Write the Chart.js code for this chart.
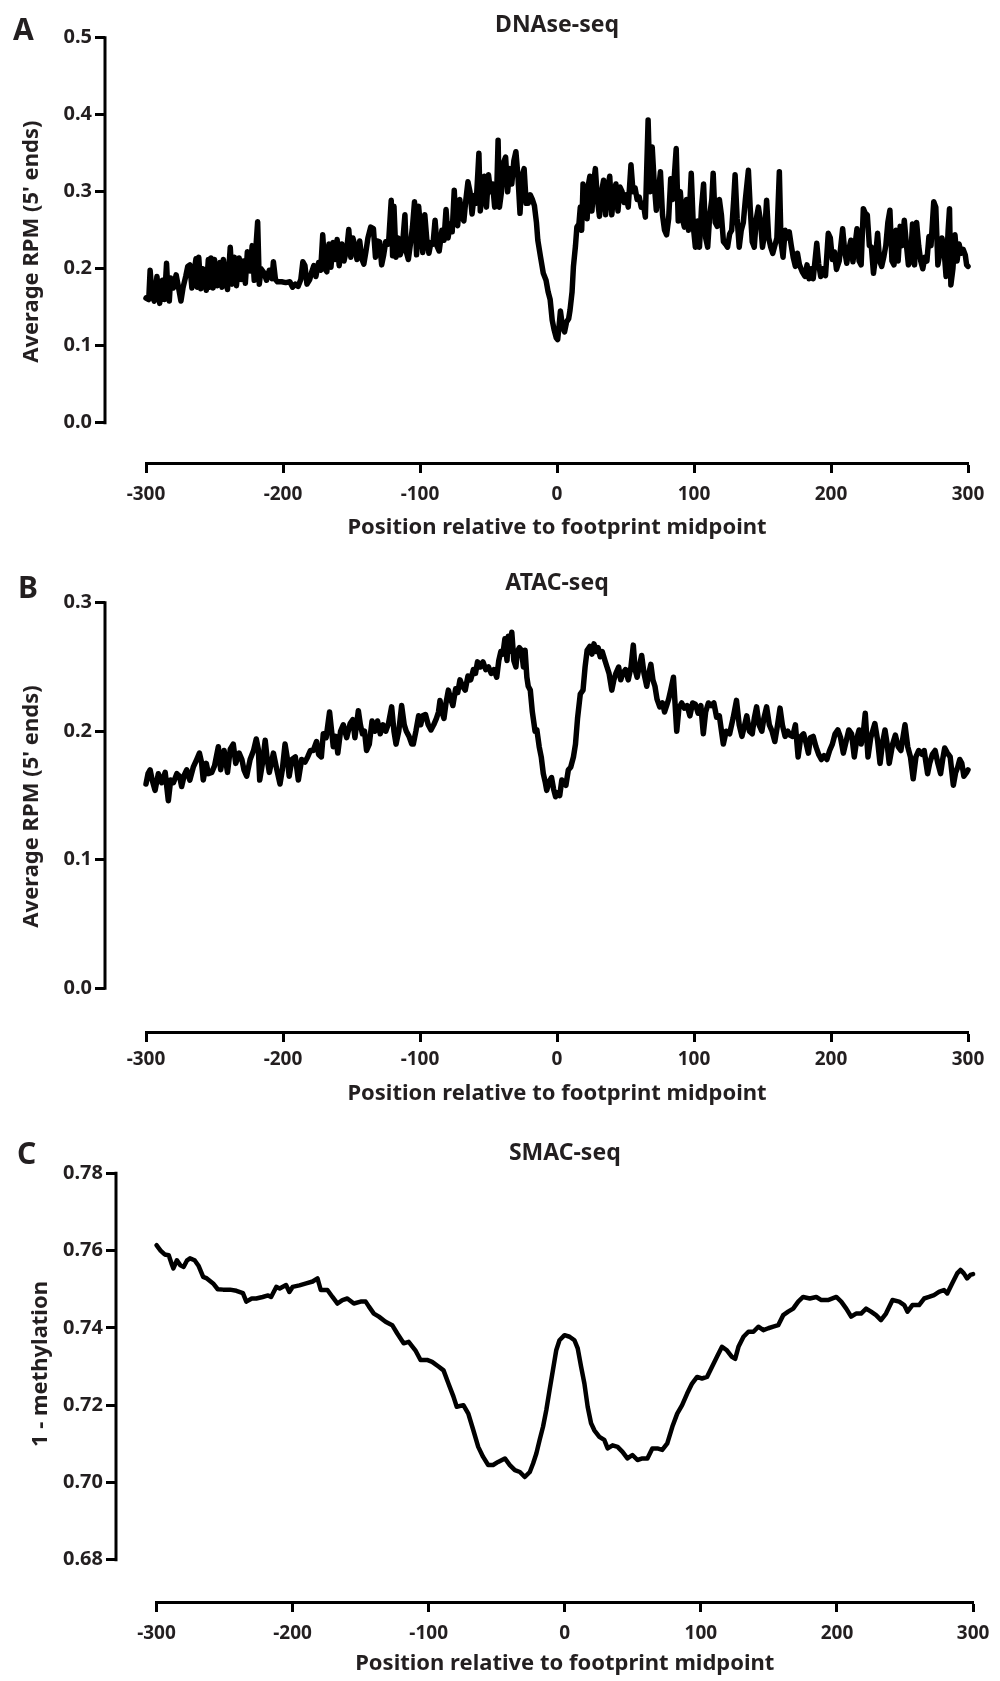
<!DOCTYPE html>
<html><head><meta charset="utf-8">
<script src="https://cdn.jsdelivr.net/npm/chart.js@4.4.1/dist/chart.umd.min.js"></script>
<style>
html,body{margin:0;padding:0;background:#fff;}
#wrap{position:relative;width:1000px;height:1681px;background:#fff;}
canvas{position:absolute;left:0;}
</style></head><body>
<div id="wrap">
<canvas id="cA" width="1000" height="550" style="top:0px"></canvas>
<canvas id="cB" width="1000" height="560" style="top:550px"></canvas>
<canvas id="cC" width="1000" height="571" style="top:1110px"></canvas>
</div>
<script>
// ---------- shared axis ticks ----------
const xTicks = [-300, -200, -100, 0, 100, 200, 300];
const dnaseTicks = [0, 0.1, 0.2, 0.3, 0.4, 0.5];
const atacTicks = [0, 0.1, 0.2, 0.3];
const smacTicks = [0.68, 0.70, 0.72, 0.74, 0.76, 0.78];

// ---------- A: DNAse-seq ----------
const dnasePos = [
-300,-298,-297,-295.5,-294,-292,-290,-289,-288,-286.5,
-285,-284,-283,-282,-280,-278,-276.5,-274.5,-273,-271,
-269.5,-268,-266.5,-265,-263.5,-262.5,-261.5,-260,-258.5,-256,
-254.5,-253.5,-252.5,-251,-250,-248,-246,-244.5,-243.5,-242,
-240.5,-238.5,-237,-235.5,-234,-232,-230.5,-229,-227.5,-226,
-224,-222.5,-221,-219.5,-218.5,-217.3,-216,-214,-212,-210,
-208,-207,-205.5,-204,-201,-198,-195,-193,-191,-189,
-187,-185.5,-184,-182.5,-180.5,-179,-177.5,-176,-174,-172.5,
-171,-169.5,-168,-166.5,-165,-163.5,-162,-160.5,-159,-157,
-155.5,-153.5,-152,-150.5,-149,-147.5,-146,-144,-142.5,-141,
-139.5,-138,-136,-134,-132.5,-131,-129.5,-128,-126.5,-125,
-123,-121,-120,-119,-117.5,-116,-114.5,-113,-111,-110,
-108.5,-107,-105.5,-104,-102.5,-101,-99.5,-98,-96.5,-95,
-93.5,-92,-90.5,-89,-87.5,-86,-84,-82.5,-81,-79.5,
-78,-76.5,-75,-74,-72.5,-71,-69.5,-68,-66.5,-65,
-63.5,-62,-60.5,-59,-57,-56,-54.5,-53,-51.5,-50,
-48.5,-47,-45.5,-44,-43,-42,-40.5,-39,-37.5,-36,
-34.5,-33,-31.5,-30,-28.5,-27,-25.5,-24,-22.5,-21,
-19.5,-18,-16.5,-15,-14,-12,-10,-8,-6.5,-5,
-3.5,-2,-0.5,0.5,1.5,2.5,4,5.5,7,8.5,
9.5,11,12,13.5,14.5,16,17,18,19,20,
21,22,23,24,25.5,27,28,29.5,31,32.5,
34,35.5,37,38.5,40,41.5,43,44.5,46,47.5,
49,50.5,52,54,55.5,57,58.5,60,61.5,63,
64.5,66.5,68,69.5,71,72.5,74,75.5,77,78.5,
80,81.5,83,84.5,87,88.5,90,91.5,93,94.5,
96,98,99.5,101,102.5,104,105.5,107,108.5,110,
111.5,113,114,115.5,117,118.5,120,121.5,123,124.5,
126,127.5,129,130,131.5,133,134.5,136,137.5,139.7,
141,142.5,144,145.5,147,148.5,150,151.5,153,154.5,
156,157.5,159,160.5,162.3,163.5,165,166.5,168,169.5,
171,172.5,174,175.5,177,179,181,182.5,184,185.5,
187,189.6,191,192.5,194,196,198,199.5,201,202.5,
204,206,208.5,210,211.5,213,214.5,216,217.5,219,
220.5,222,223.6,225,226.5,228,229.5,231,232.5,234,
235.5,237,238.5,240,241.5,243,244.5,246,247.5,249,
250.5,252,253.5,255,256.5,258,259.5,261,262.5,264,
265.5,267,268.5,270,271.5,273,275,276.5,278,279.5,
281,282.5,284,285.5,286.5,287.5,289,290.5,292,293.5,
295,296.5,298,299,300];
const dnaseVal = [
.162,.160,.198,.165,.158,.190,.155,.178,.185,.160,
.207,.170,.158,.188,.175,.192,.178,.158,.175,.190,
.203,.205,.175,.195,.213,.176,.215,.174,.200,.172,
.212,.176,.214,.175,.212,.178,.208,.176,.212,.190,
.173,.228,.180,.215,.178,.214,.186,.210,.181,.222,
.197,.230,.185,.235,.261,.180,.200,.195,.185,.198,
.187,.209,.186,.183,.183,.182,.183,.176,.180,.177,
.186,.209,.204,.180,.186,.196,.204,.190,.208,.198,
.244,.200,.196,.232,.202,.234,.212,.238,.204,.232,
.210,.225,.251,.215,.240,.230,.212,.236,.213,.206,
.222,.240,.254,.252,.215,.236,.235,.205,.218,.235,
.232,.289,.217,.281,.215,.240,.218,.226,.270,.222,
.212,.232,.254,.287,.218,.281,.250,.221,.270,.237,
.220,.234,.232,.263,.229,.223,.250,.237,.277,.240,
.258,.248,.302,.264,.256,.290,.268,.262,.290,.313,
.300,.271,.295,.285,.350,.275,.300,.320,.280,.322,
.300,.310,.280,.300,.367,.280,.300,.338,.345,.300,
.330,.310,.340,.352,.320,.272,.320,.330,.285,.285,
.296,.290,.282,.260,.237,.215,.194,.185,.170,.160,
.133,.120,.110,.108,.125,.145,.125,.118,.131,.135,
.146,.170,.203,.230,.254,.258,.280,.250,.310,.268,
.300,.265,.310,.320,.275,.315,.330,.290,.268,.300,
.315,.270,.305,.320,.270,.300,.310,.275,.306,.300,
.286,.296,.280,.335,.300,.305,.290,.293,.280,.285,
.267,.393,.300,.358,.310,.276,.300,.326,.270,.250,
.244,.265,.317,.290,.356,.262,.300,.265,.254,.290,
.250,.324,.255,.228,.262,.228,.280,.310,.240,.228,
.270,.290,.324,.260,.255,.290,.270,.235,.232,.228,
.245,.250,.290,.322,.265,.228,.250,.260,.290,.328,
.280,.235,.228,.265,.280,.262,.228,.245,.289,.240,
.228,.220,.230,.240,.326,.235,.215,.250,.240,.248,
.230,.214,.203,.220,.205,.196,.190,.205,.187,.200,
.187,.233,.206,.190,.200,.191,.246,.240,.212,.222,
.199,.210,.252,.223,.207,.225,.237,.209,.230,.252,
.210,.205,.278,.272,.270,.230,.228,.194,.215,.246,
.210,.203,.215,.230,.260,.276,.210,.205,.250,.210,
.255,.230,.263,.232,.205,.210,.258,.205,.260,.230,
.210,.200,.215,.210,.242,.230,.287,.280,.205,.220,
.240,.225,.190,.250,.278,.179,.200,.244,.210,.232,
.220,.225,.218,.205,.203];

// ---------- B: ATAC-seq ----------
const atacPos = [
-300,-298.5,-297,-295.5,-293.4,-291,-288.5,-286,-283.7,-282,
-280,-277.5,-275.5,-274,-272,-270.3,-268,-265.5,-263,-261,
-259.5,-258.2,-256,-254.5,-252,-250,-247.2,-245.5,-243,-240.5,
-238.5,-236.3,-234.5,-232,-230,-228.5,-226.5,-224,-221.5,-219.5,
-218,-217,-215,-213,-211.5,-210,-207,-204.5,-202.2,-200.5,
-198.5,-197,-195.5,-193.5,-191,-188.8,-186.4,-184,-182,-180,
-177.9,-175.5,-174,-172,-170.6,-168.5,-166,-164.5,-163.3,-161.5,
-160,-158,-156,-153.5,-151,-149,-147.5,-145,-143.5,-142,
-140.5,-139,-137,-135,-133,-131,-129,-127,-125,-123,
-120.7,-119,-117.5,-115.5,-113.4,-111.5,-110,-108,-106,-104.9,
-103,-101,-99.5,-98,-96,-94,-92,-90,-88,-86.5,
-85.4,-84,-82.5,-81,-79.3,-77.5,-76,-74,-72.5,-70.8,
-69,-67,-65,-63,-61,-59.5,-58,-56,-54,-52,
-50,-48,-46,-44,-42.5,-41,-39.5,-38,-36.5,-35.5,
-34.5,-33,-31.5,-30,-29,-27.5,-26,-24.5,-23.3,-22,
-21,-19.5,-18,-16,-14.7,-13,-11.5,-10,-8.5,-7.5,
-6,-4,-2.5,-1,0.5,2,3.5,5,6.5,8.3,
10,12,13.5,15,17,19,20.5,22,24,25.5,
27,28.5,30,31.5,33,35,36.5,38,40,41.5,
43,45,46.5,48,50,52,54,55.7,57,58.5,
60,61.8,63.5,65.5,67,68.5,70,71.5,73,75,
77,78.5,80,81.5,83,85,87.4,89,91,93,
95,97,99,101,103,105,106.8,108.5,110.5,112.5,
114.5,116.5,118.5,121.4,123.5,126,128.5,131,133,135,
137,138.5,140.5,142.5,144,145.7,147.5,149.5,151,153,
155,157,159,161,162.8,164.5,166.5,168.5,170,172,
174,176,178,180,182,183.5,185,187,189,191,
193,195,197,199,201,203,205,207,209,211,
213,215,217,219,220.5,222,223.5,225,227,229,
232,234,235.8,237.5,239.4,241,242.5,245,247,249,
251,254,256,258,260,262,264,266.5,268,270.5,
272,274,276,278,280,281.5,283,285,287,289.3,
291,292.5,294,295.5,297,299,300];
const atacVal = [
.159,.167,.170,.162,.154,.167,.160,.168,.146,.162,
.160,.167,.165,.157,.166,.170,.162,.172,.178,.183,
.176,.162,.175,.167,.168,.173,.188,.170,.185,.168,
.186,.190,.175,.183,.178,.170,.165,.178,.185,.194,
.186,.162,.175,.193,.178,.168,.183,.170,.159,.170,
.190,.180,.165,.178,.180,.162,.178,.176,.180,.185,
.185,.192,.182,.180,.198,.195,.215,.200,.188,.196,
.183,.200,.205,.195,.206,.209,.195,.216,.205,.198,
.200,.185,.190,.208,.200,.208,.198,.205,.200,.206,
.219,.200,.190,.200,.220,.205,.200,.196,.190,.190,
.200,.212,.205,.212,.213,.205,.201,.205,.210,.215,
.224,.215,.210,.222,.232,.225,.220,.233,.230,.240,
.235,.232,.243,.240,.248,.245,.254,.250,.254,.248,
.250,.245,.248,.242,.255,.262,.260,.272,.255,.274,
.262,.277,.255,.250,.262,.265,.263,.250,.263,.242,
.235,.232,.215,.200,.201,.188,.180,.167,.160,.154,
.160,.164,.155,.149,.152,.150,.162,.160,.158,.170,
.172,.180,.190,.210,.229,.232,.250,.263,.266,.260,
.268,.262,.265,.258,.262,.255,.250,.245,.232,.240,
.245,.250,.240,.245,.248,.240,.250,.267,.248,.242,
.250,.259,.245,.235,.245,.252,.240,.235,.225,.219,
.222,.215,.220,.225,.232,.242,.200,.218,.222,.218,
.220,.212,.222,.221,.214,.220,.198,.215,.222,.220,
.222,.211,.212,.190,.200,.198,.210,.224,.205,.196,
.205,.212,.200,.198,.210,.219,.205,.200,.210,.219,
.205,.200,.192,.205,.218,.205,.196,.200,.197,.196,
.205,.180,.196,.198,.190,.183,.195,.196,.188,.182,
.178,.181,.178,.185,.190,.198,.201,.195,.183,.192,
.201,.198,.180,.195,.201,.190,.198,.214,.180,.195,
.206,.193,.175,.190,.201,.190,.175,.190,.197,.188,
.185,.205,.188,.180,.163,.180,.185,.182,.185,.167,
.175,.182,.185,.175,.167,.178,.187,.183,.180,.158,
.168,.172,.178,.175,.165,.168,.170];

// ---------- C: SMAC-seq ----------
const smacPos = [
-300,-297,-294,-291,-289,-287.6,-285,-282.5,-280,-277.5,
-275.4,-272,-269,-265.7,-263,-258.4,-255,-251,-246,-241.3,
-236.5,-234,-230,-226.7,-222,-218,-215.8,-212,-209.5,-204.8,
-202.4,-200,-195,-190,-185.3,-181.7,-179.3,-174.4,-170.7,-167,
-163.4,-159.8,-155,-150,-146.3,-143.9,-140.3,-136.6,-131.7,-126.8,
-123.2,-118.4,-114.7,-109.8,-106,-101.2,-97.5,-92.8,-89.1,-85.5,
-81.8,-79.4,-74.5,-70.9,-67.2,-63.6,-60,-56.3,-52.7,-49,
-44,-40.4,-36.7,-33,-29.4,-25.7,-23.3,-20.9,-18.5,-16,
-13.6,-11.2,-8.7,-6.3,-3.9,-0.2,3.5,7.1,9.5,12,
14.4,16.8,19.3,21.7,25.4,29,31.5,35.1,38.8,42.4,
46,49.7,53.4,57,60.7,64.3,68,71.6,75.3,79,
82.6,86.2,89.9,93.5,97.2,100.8,104.5,108.1,111.8,115.5,
119.1,122.8,125.2,127.6,131.3,134.9,138.6,142.2,145.9,149.5,
153.2,156.8,160.5,164.1,167.8,171.5,175.1,180,184.8,188.5,
193.4,199.5,203.1,206.8,210.4,214,217.7,221.4,225,228.7,
232.3,236,240.8,245.7,249.4,251.8,255.4,260.3,264,267.6,
271.3,274.9,278.6,281,284.6,288.3,290.7,293.2,295.6,298,
300];
const smacVal = [
.7614,.760,.759,.7588,.7567,.7554,.7575,.7562,.7558,.7575,
.758,.7575,.756,.7532,.7528,.7515,.750,.7499,.7499,.7496,
.749,.7468,.7476,.7476,.748,.7484,.748,.7506,.7502,.7511,
.7493,.7506,.751,.7515,.752,.7528,.7498,.7498,.748,.7463,
.7472,.7476,.7463,.7468,.7468,.7455,.7437,.7429,.7416,.7407,
.7386,.736,.7364,.7342,.7317,.7317,.7312,.730,.729,.7256,
.7222,.7196,.720,.7178,.7135,.7092,.7066,.7045,.7045,.7053,
.7062,.7045,.7032,.7027,.7014,.7027,.7049,.7075,.711,.7144,
.7187,.7239,.7291,.7342,.7368,.7381,.7377,.7368,.7347,.7299,
.7256,.7196,.7153,.7135,.7118,.711,.7088,.7096,.7092,.7079,
.7062,.7071,.7058,.7062,.7062,.7088,.7088,.7084,.7101,.7144,
.7178,.720,.723,.7256,.7273,.7269,.7273,.7299,.7325,.7351,
.7342,.7325,.732,.7351,.7377,.739,.739,.7403,.7394,.7399,
.7403,.7407,.7433,.7442,.745,.7468,.748,.7476,.748,.7472,
.7472,.748,.7468,.745,.7429,.7437,.7437,.745,.7442,.7433,
.742,.7437,.7472,.7468,.7459,.7442,.7459,.7459,.7476,.748,
.7485,.7493,.7498,.7489,.7515,.7541,.755,.7541,.7528,.7537,
.7539];

// ---------- drawing ----------
const TEXT = '#231f20';
const FONT = '"Noto Sans", "DejaVu Sans", sans-serif';

// draws the detached y-axis line (from first to last y tick) and the panel letter
const panelDecor = {
  id: 'panelDecor',
  afterDraw(chart, args, o) {
    const {ctx} = chart;
    const xs = chart.scales.x, ys = chart.scales.y;
    const ax = xs.getPixelForValue(xs.min) - o.gap;
    ctx.save();
    ctx.strokeStyle = '#000';
    ctx.lineWidth = 3;
    ctx.lineCap = 'square';
    ctx.beginPath();
    ctx.moveTo(ax, ys.getPixelForValue(o.yTop));
    ctx.lineTo(ax, ys.getPixelForValue(o.yBottom));
    ctx.stroke();
    ctx.fillStyle = TEXT;
    ctx.font = 'bold 30px ' + FONT;
    ctx.textAlign = 'left';
    ctx.textBaseline = 'middle';
    ctx.fillText(o.letter, o.lx, o.ly);
    ctx.restore();
  }
};

function makePanel(id, p) {
  const pts = p.pos.map((x, i) => ({x: x, y: p.vals[i]}));
  const yTop = p.yTicks[p.yTicks.length - 1];
  return new Chart(document.getElementById(id), {
    type: 'line',
    data: { datasets: [{
      data: pts, borderColor: '#000', borderWidth: p.lineWidth, pointRadius: 0,
      tension: 0, borderJoinStyle: 'round', borderCapStyle: 'round', fill: false, clip: false
    }]},
    options: {
      responsive: false, animation: false, events: [],
      layout: { padding: { top: 0, left: 0, right: p.padRight, bottom: 0 } },
      plugins: {
        legend: { display: false },
        tooltip: { enabled: false },
        title: { display: true, text: p.title, fullSize: false, color: TEXT,
                 font: { family: FONT, size: 23, weight: 'bold', lineHeight: 1 },
                 padding: { top: p.titleTop, bottom: p.titleBottom } },
        panelDecor: { letter: p.letter, lx: p.lx, ly: p.ly, gap: p.gap, yTop: yTop, yBottom: p.yTicks[0] }
      },
      scales: {
        x: {
          type: 'linear', min: xTicks[0], max: xTicks[xTicks.length - 1],
          afterBuildTicks: s => { s.ticks = xTicks.map(v => ({value: v})); },
          afterFit: s => { s.height = p.xHeight; },
          border: { display: true, color: '#000', width: 3 },
          grid: { drawOnChartArea: false, drawTicks: true, tickLength: 10, tickWidth: 3, tickColor: '#000' },
          ticks: { color: TEXT, padding: p.xTickPad, autoSkip: false, maxRotation: 0,
                   font: { family: FONT, size: 19, weight: 'bold' }, callback: v => String(v) },
          title: { display: true, text: 'Position relative to footprint midpoint', color: TEXT,
                   font: { family: FONT, size: 22, weight: 'bold' },
                   padding: { top: 0, bottom: p.xTitleBottom } }
        },
        y: {
          type: 'linear', min: p.yMin, max: p.yMax,
          afterBuildTicks: s => { s.ticks = p.yTicks.map(v => ({value: v})); },
          afterFit: s => { s.width = p.yWidth; },
          border: { display: false },
          grid: { drawOnChartArea: false, drawTicks: true, tickLength: p.gap + 10, tickWidth: 3,
                  tickColor: '#000', tickBorderDash: [10, p.gap + 30] },
          ticks: { color: TEXT, padding: 3, autoSkip: false,
                   font: { family: FONT, size: 20, weight: 'bold' },
                   callback: v => Number(v).toFixed(p.yDigits) },
          title: { display: true, text: p.yTitle, color: TEXT,
                   font: { family: FONT, size: 22, weight: 'bold' },
                   padding: { top: p.yTitleTop, bottom: 0 } }
        }
      }
    },
    plugins: [panelDecor]
  });
}

makePanel('cA', {
  pos: dnasePos, vals: dnaseVal, yTicks: dnaseTicks, yMin: -0.0523, yMax: 0.5225, yDigits: 1,
  title: 'DNAse-seq', yTitle: "Average RPM (5' ends)", letter: 'A', lx: 13, ly: 31,
  lineWidth: 5.5, gap: 41, yWidth: 146, padRight: 32,
  titleTop: 14, titleBottom: -16.6, xHeight: 87, xTickPad: 10.6, xTitleBottom: 8.8, yTitleTop: 18.8
});
makePanel('cB', {
  pos: atacPos, vals: atacVal, yTicks: atacTicks, yMin: -0.034, yMax: 0.3169, yDigits: 1,
  title: 'ATAC-seq', yTitle: "Average RPM (5' ends)", letter: 'B', lx: 18, ly: 39,
  lineWidth: 5.5, gap: 41, yWidth: 146, padRight: 32,
  titleTop: 21.5, titleBottom: -13.5, xHeight: 78, xTickPad: 6.6, xTitleBottom: 2.8, yTitleTop: 18.8
});
makePanel('cC', {
  pos: smacPos, vals: smacVal, yTicks: smacTicks, yMin: 0.66905, yMax: 0.79225, yDigits: 2,
  title: 'SMAC-seq', yTitle: '1 - methylation', letter: 'C', lx: 17, ly: 45,
  lineWidth: 4.5, gap: 40.5, yWidth: 156.5, padRight: 22.5,
  titleTop: 31.8, titleBottom: -38.8, xHeight: 79, xTickPad: 10.6, xTitleBottom: 3.8, yTitleTop: 27.8
});
</script>
</body></html>
